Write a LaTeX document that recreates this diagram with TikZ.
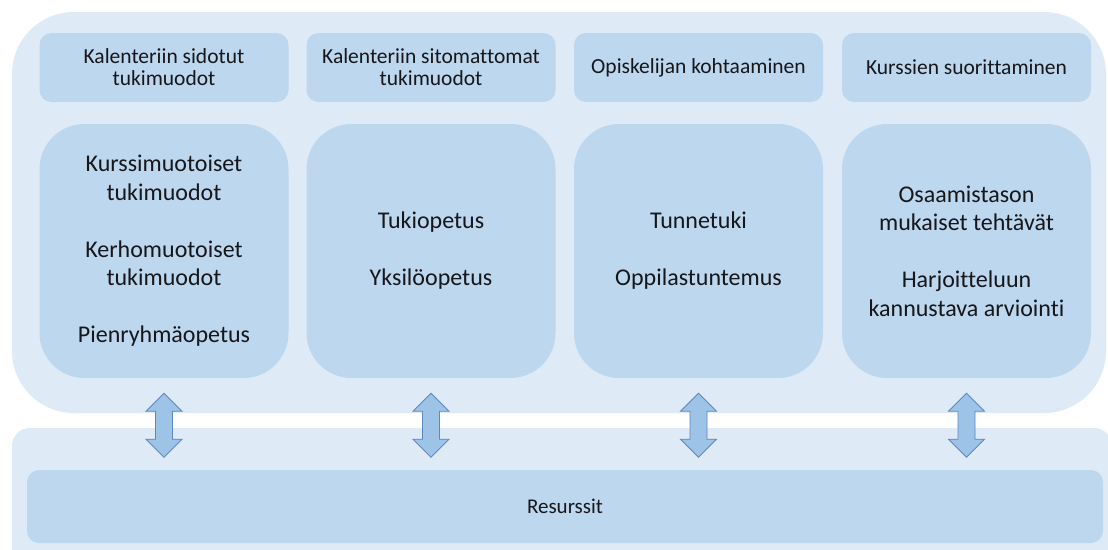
\documentclass[tikz,border=0pt]{standalone}
\usepackage{fontspec}
\setmainfont{Carlito}[Ligatures={NoCommon}]
\usetikzlibrary{calc}
\definecolor{panel}{HTML}{DEEBF7}
\definecolor{boxc}{HTML}{BDD7EE}
\definecolor{arrf}{HTML}{9DC3E6}
\definecolor{arrd}{HTML}{5F87C3}
\definecolor{txt}{HTML}{16161B}
\begin{document}
\begin{tikzpicture}[x=1pt,y=-1pt,
  panelbox/.style={fill=panel, draw=none, inner sep=0pt},
  hdr/.style={fill=boxc, draw=none, rounded corners=12pt, minimum width=249pt, minimum height=69pt, align=center, text=txt, font=\fontsize{21.5}{22}\selectfont, inner sep=0pt},
  bodybox/.style={fill=boxc, draw=none, rounded corners=45pt, minimum width=249pt, minimum height=254pt, align=center, text=txt, font=\fontsize{24}{28.5}\selectfont, inner sep=0pt},
  resbox/.style={fill=boxc, draw=none, rounded corners=12pt, minimum width=1076pt, minimum height=73pt, align=center, text=txt, font=\fontsize{21}{22}\selectfont, inner sep=0pt},
  blockarrow/.style={fill=arrf, draw=arrd, line width=0.8pt, line join=miter}]
\useasboundingbox (0,0) rectangle (1108,549);
\clip (0,0) rectangle (1108,549);
\fill[white] (0,0) rectangle (1108,549);
% panels
\node[panelbox, rounded corners=62pt, minimum width=1094pt, minimum height=401pt] (top) at (559,212.5) {};
\node[panelbox, rounded corners=18pt, minimum width=1100pt, minimum height=142pt] (bottom) at (562,499) {};
% headers
\node[hdr] (h1) at (164,67.5) {Kalenteriin sidotut\\tukimuodot};
\node[hdr] (h2) at (431,67.5) {Kalenteriin sitomattomat\\tukimuodot};
\node[hdr] (h3) at (698.5,67.5) {Opiskelijan kohtaaminen};
\node[hdr] (h4) at (966.5,67.5) {Kurssien suorittaminen};
% bodies
\node[bodybox] (b1) at (164,251) {Kurssimuotoiset\\tukimuodot\\[28.5pt]Kerhomuotoiset\\tukimuodot\\[28.5pt]Pienryhmäopetus};
\node[bodybox] (b2) at (431,251) {Tukiopetus\\[28.5pt]Yksilöopetus};
\node[bodybox] (b3) at (698.5,251) {Tunnetuki\\[28.5pt]Oppilastuntemus};
\node[bodybox] (b4) at (966.5,251) {Osaamistason\\mukaiset tehtävät\\[28.5pt]Harjoitteluun\\kannustava arviointi};
% resources
\node[resbox] (res) at (565,506.5) {Resurssit};
% block arrows
\foreach \i in {1,2,3,4}{
  \draw[blockarrow] ($(b\i.south)+(0,15)$) -- ++(18,18) -- ++(-9.5,0) -- ++(0,28) -- ++(9.5,0) -- ++(-18,18) -- ++(-18,-18) -- ++(9.5,0) -- ++(0,-28) -- ++(-9.5,0) -- cycle;
}
\end{tikzpicture}
\end{document}
